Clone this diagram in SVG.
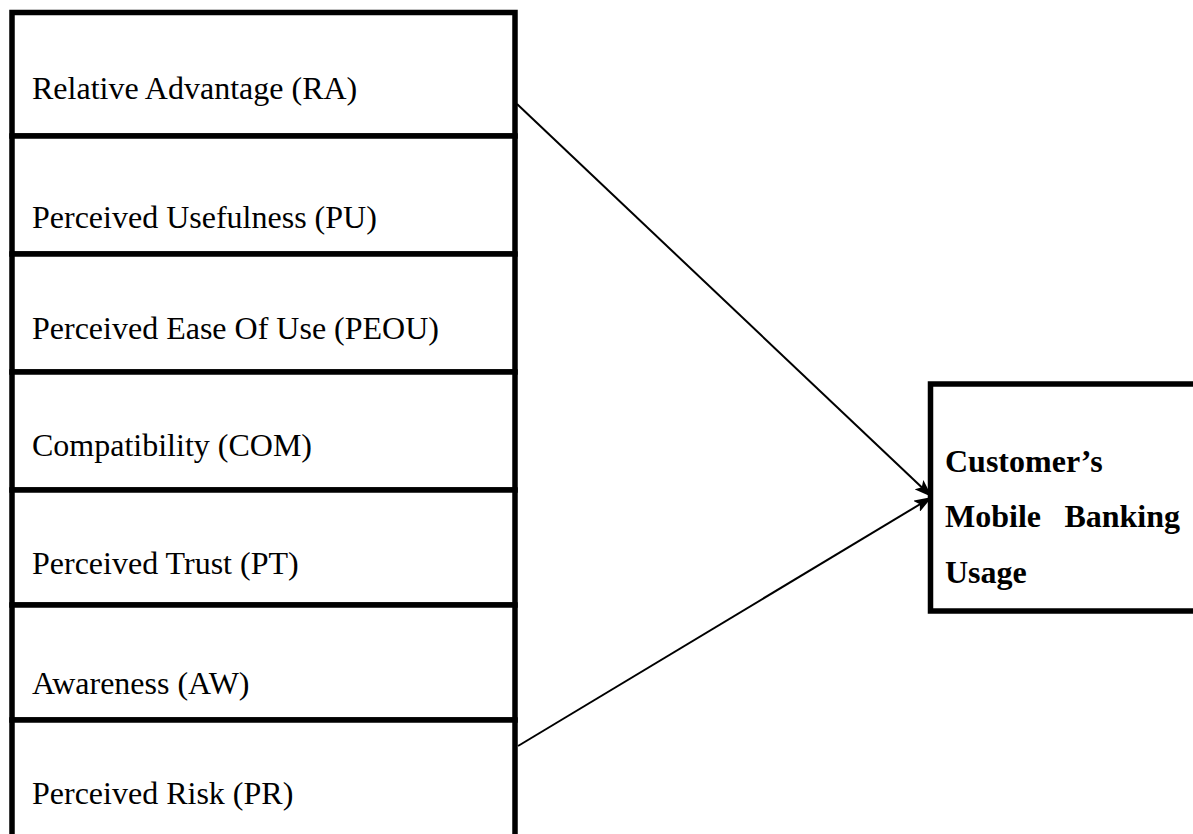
<svg xmlns="http://www.w3.org/2000/svg" width="1193" height="834" viewBox="0 0 1193 834">
<style>
.box{fill:#fff;stroke:#000;stroke-width:5.5}
.lbl{font-family:"Liberation Serif","Times New Roman",serif;font-size:32px;fill:#000}
.out{font-family:"Liberation Serif","Times New Roman",serif;font-size:32px;font-weight:bold;fill:#000}
.conn{stroke:#000;stroke-width:2;fill:none}
</style>
<defs>
<marker id="arr" viewBox="0 0 14 10" refX="14" refY="5" markerWidth="18" markerHeight="13" markerUnits="userSpaceOnUse" orient="auto">
<path d="M0,0 L14,5 L0,10 L3,5 z" fill="#000"/>
</marker>
</defs>
<rect width="1193" height="834" fill="#fff"/>
<g id="node-ra"><rect class="box" x="12" y="12.5" width="503" height="123.5"/><text class="lbl" x="32" y="99">Relative Advantage (RA)</text></g>
<g id="node-pu"><rect class="box" x="12" y="136" width="503" height="118"/><text class="lbl" x="32" y="228">Perceived Usefulness (PU)</text></g>
<g id="node-peou"><rect class="box" x="12" y="254" width="503" height="118"/><text class="lbl" x="32" y="339">Perceived Ease Of Use (PEOU)</text></g>
<g id="node-com"><rect class="box" x="12" y="372" width="503" height="118"/><text class="lbl" x="32" y="456">Compatibility (COM)</text></g>
<g id="node-pt"><rect class="box" x="12" y="490" width="503" height="115"/><text class="lbl" x="32" y="574">Perceived Trust (PT)</text></g>
<g id="node-aw"><rect class="box" x="12" y="605" width="503" height="115"/><text class="lbl" x="32" y="694">Awareness (AW)</text></g>
<g id="node-pr"><rect class="box" x="12" y="720" width="503" height="120"/><text class="lbl" x="32" y="804">Perceived Risk (PR)</text></g>
<g id="node-usage"><rect class="box" x="930.5" y="384" width="300" height="227"/>
<text class="out" x="945" y="472">Customer’s</text>
<text class="out" x="945" y="527">Mobile</text>
<text class="out" x="1180" y="527" text-anchor="end">Banking</text>
<text class="out" x="945" y="583">Usage</text></g>
<g id="connectors">
<line class="conn" x1="517" y1="104" x2="932" y2="497" marker-end="url(#arr)"/>
<line class="conn" x1="518" y1="746" x2="932" y2="497" marker-end="url(#arr)"/>
</g>
</svg>
